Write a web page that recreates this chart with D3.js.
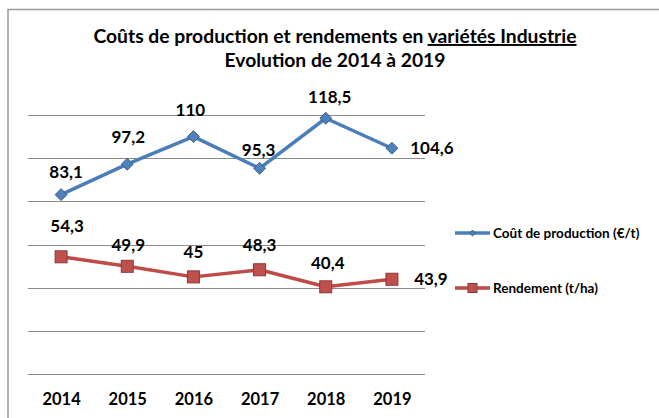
<!DOCTYPE html>
<html>
<head>
<meta charset="utf-8">
<script src="https://cdn.jsdelivr.net/npm/d3@7"></script>
<style>
  body { margin: 0; background: #fff; }
  text { font-family: Lato, "Open Sans", sans-serif; font-weight: bold; fill: #000; }
</style>
</head>
<body>
<svg class="chart" width="659" height="418"></svg>
<script>
// data
var years = ["2014", "2015", "2016", "2017", "2018", "2019"];
var cout = [83.1, 97.2, 110, 95.3, 118.5, 104.6];
var rendement = [54.3, 49.9, 45, 48.3, 40.4, 43.9];
var gridTicks = [0, 20, 40, 60, 80, 100, 120];
var seriesNames = ["Coût de production (€/t)", "Rendement (t/ha)"];

// label nudges (dx, dy) relative to the point, Excel had them hand placed
var coutLabelPos = [[5, -23], [1, -27], [-3, -27], [-1, -18], [4, -21], [40, 0]];
var rendLabelPos = [[6, -31], [1, -21], [0, -25], [0, -25], [2, -24], [39, 0]];

var svg = d3.select(".chart");

// outer frame (right and bottom run off the picture)
svg.append("rect")
    .attr("x", 8).attr("y", 9.5)
    .attr("width", 700).attr("height", 460)
    .attr("fill", "none")
    .attr("stroke", "#9a9a9a")
    .attr("stroke-width", 1.5);

// title
var title = svg.append("text")
    .attr("x", 335).attr("y", 43)
    .attr("text-anchor", "middle")
    .style("font-size", "19.3px");
title.append("tspan").text("Coûts de production et rendements en ");
title.append("tspan").attr("text-decoration", "underline").text("variétés Industrie");
svg.append("text")
    .attr("x", 335).attr("y", 67)
    .attr("text-anchor", "middle")
    .style("font-size", "19.3px")
    .text("Evolution de 2014 à 2019");

var plotLeft = 28, plotRight = 425, plotTop = 115, plotBottom = 374;

var x = d3.scalePoint().domain(years).range([plotLeft, plotRight]).padding(0.5);
var y = d3.scaleLinear().domain([0, 120]).range([plotBottom, plotTop]);

// gridlines
svg.append("g")
    .selectAll("line")
    .data(gridTicks)
    .enter().append("line")
    .attr("x1", plotLeft).attr("x2", plotRight)
    .attr("y1", function(d) { return Math.round(y(d)) + 0.5; })
    .attr("y2", function(d) { return Math.round(y(d)) + 0.5; })
    .attr("stroke", "#8a8a8a")
    .attr("stroke-width", 1);

// x axis labels only
var xAxis = svg.append("g")
    .attr("transform", "translate(0," + plotBottom + ")")
    .call(d3.axisBottom(x).tickSize(0).tickPadding(19));
xAxis.select(".domain").remove();
xAxis.selectAll("text")
    .style("font-size", "16.5px")
    .style("font-family", "Lato, sans-serif")
    .attr("fill", "#000");

var line = d3.line()
    .x(function(d, i) { return x(years[i]); })
    .y(function(d) { return y(d); });

// coût de production
svg.append("path")
    .datum(cout)
    .attr("d", line)
    .attr("fill", "none")
    .attr("stroke", "#4a7ebb")
    .attr("stroke-width", 3.5)
    .attr("stroke-linejoin", "round");

svg.append("g")
    .selectAll("path")
    .data(cout)
    .enter().append("path")
    .attr("d", d3.symbol().type(d3.symbolDiamond2).size(90))
    .attr("transform", function(d, i) { return "translate(" + x(years[i]) + "," + y(d) + ")"; })
    .attr("fill", "#4f81bd")
    .attr("stroke", "#385d8a")
    .attr("stroke-width", 1);

// rendement
svg.append("path")
    .datum(rendement)
    .attr("d", line)
    .attr("fill", "none")
    .attr("stroke", "#be4b48")
    .attr("stroke-width", 3.5)
    .attr("stroke-linejoin", "round");

svg.append("g")
    .selectAll("rect")
    .data(rendement)
    .enter().append("rect")
    .attr("x", function(d, i) { return x(years[i]) - 6; })
    .attr("y", function(d) { return y(d) - 6; })
    .attr("width", 12).attr("height", 12)
    .attr("fill", "#c0504d")
    .attr("stroke", "#8c3836")
    .attr("stroke-width", 1);

var fmt = function(d) { return String(d).replace(".", ","); };

svg.append("g")
    .selectAll("text")
    .data(cout)
    .enter().append("text")
    .attr("x", function(d, i) { return x(years[i]) + coutLabelPos[i][0]; })
    .attr("y", function(d, i) { return y(d) + coutLabelPos[i][1]; })
    .attr("dy", "0.35em")
    .attr("text-anchor", "middle")
    .style("font-size", "17px")
    .text(fmt);

svg.append("g")
    .selectAll("text")
    .data(rendement)
    .enter().append("text")
    .attr("x", function(d, i) { return x(years[i]) + rendLabelPos[i][0]; })
    .attr("y", function(d, i) { return y(d) + rendLabelPos[i][1]; })
    .attr("dy", "0.35em")
    .attr("text-anchor", "middle")
    .style("font-size", "17px")
    .text(fmt);

// legend
var legend = svg.append("g");
var legendRows = [
  { name: seriesNames[0], color: "#4a7ebb", fill: "#4f81bd", stroke: "#385d8a", shape: "diamond", y: 233 },
  { name: seriesNames[1], color: "#be4b48", fill: "#c0504d", stroke: "#8c3836", shape: "square", y: 288 }
];
legendRows.forEach(function(r) {
    legend.append("line")
        .attr("x1", 455).attr("x2", 490)
        .attr("y1", r.y).attr("y2", r.y)
        .attr("stroke", r.color)
        .attr("stroke-width", 3.5);
    if (r.shape == "diamond") {
        legend.append("path")
            .attr("d", d3.symbol().type(d3.symbolDiamond2).size(22))
            .attr("transform", "translate(472.5," + r.y + ")")
            .attr("fill", r.fill).attr("stroke", r.stroke);
    } else {
        legend.append("rect")
            .attr("x", 468).attr("y", r.y - 4.5)
            .attr("width", 9).attr("height", 9)
            .attr("fill", r.fill).attr("stroke", r.stroke);
    }
    legend.append("text")
        .attr("x", 493).attr("y", r.y)
        .attr("dy", "0.35em")
        .style("font-size", "13.5px")
        .text(r.name);
});
</script>
</body>
</html>
